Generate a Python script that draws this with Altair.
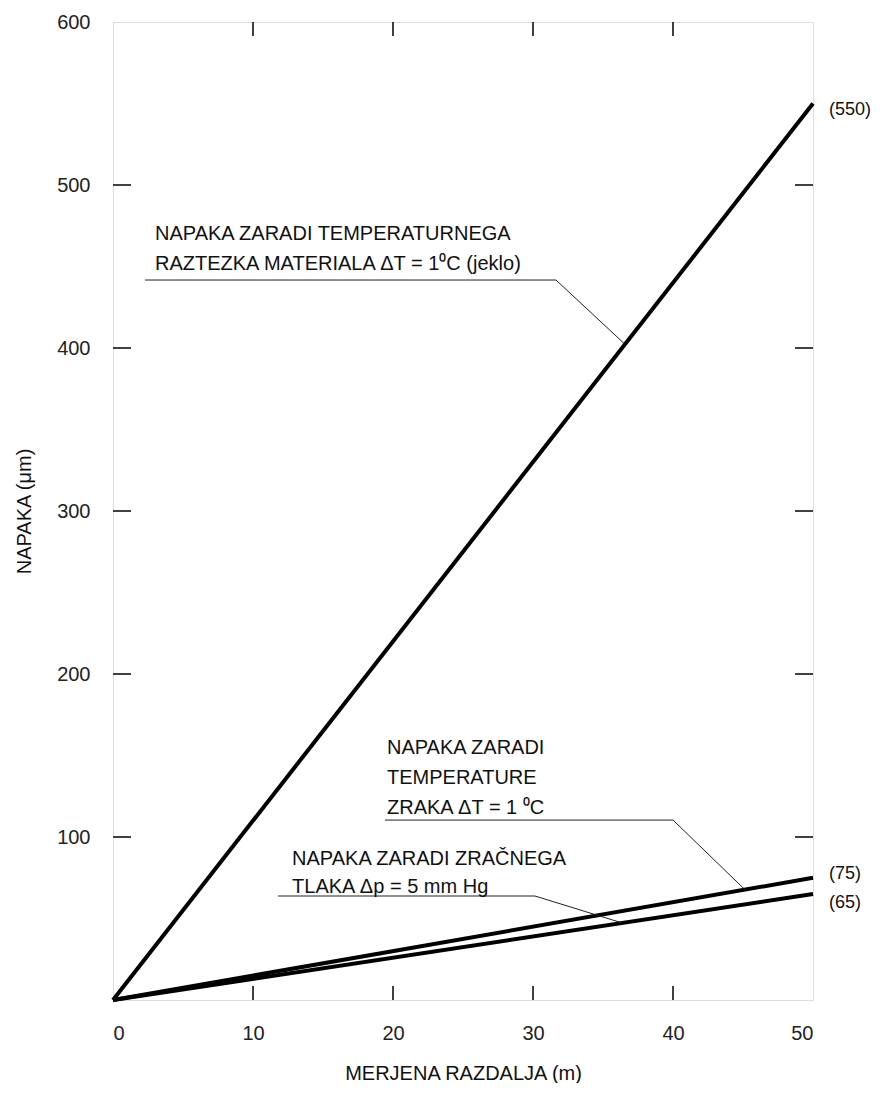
import altair as alt
import pandas as pd

FONT = "Liberation Sans, Arial, sans-serif"

# series: (0,0) -> (50, end value)
series = ["jeklo", "zrak_T", "zrak_p"]
x_end = 50
end_values = [550, 75, 65]
end_labels = ["(550)", "(75)", "(65)"]
end_label_y = [546, 77, 59.5]

y_tick_values = [100, 200, 300, 400, 500]
x_tick_values = [10, 20, 30, 40]
y_label_values = [100, 200, 300, 400, 500, 600]
x_label_values = [0, 10, 20, 30, 40, 50]

# annotation text lines (data coords: x, baseline y)
ann_text = [
    "NAPAKA ZARADI TEMPERATURNEGA",
    "RAZTEZKA MATERIALA \u0394T =  1\u2070C (jeklo)",
    "NAPAKA ZARADI",
    "TEMPERATURE",
    "ZRAKA  \u0394T =  1 \u2070C",
    "NAPAKA ZARADI ZRA\u010cNEGA",
    "TLAKA \u0394p =  5 mm Hg",
]
ann_x = [3.0, 3.0, 19.57, 19.57, 19.57, 12.79, 12.79]
ann_y = [466.3, 447.9, 150.9, 132.5, 114.1, 82.8, 65.6]

# leader lines: group, x, y
leader_group = [1, 1, 1, 2, 2, 2, 3, 3, 3]
leader_order = [0, 1, 2, 0, 1, 2, 0, 1, 2]
leader_x = [2.29, 31.64, 36.57, 19.43, 40.0, 45.14, 11.79, 30.14, 36.36]
leader_y = [441.7, 441.7, 402.3, 110.4, 110.4, 67.7, 63.8, 63.8, 47.3]

rows = []
for s, v in zip(series, end_values):
    rows.append({"s": s, "x": 0, "y": 0})
    rows.append({"s": s, "x": x_end, "y": v})
lines_df = pd.DataFrame(rows)

xs = alt.Scale(domain=[0, 50], nice=False, zero=False)
ys = alt.Scale(domain=[0, 600], nice=False, zero=False)

x_axis = alt.Axis(
    values=x_label_values, ticks=False, domain=False, grid=False,
    labelFont=FONT, labelFontSize=20, labelColor="#222", labelPadding=23,
    title="MERJENA RAZDALJA (m)", titleFont=FONT, titleFontSize=20,
    titleFontWeight="normal", titleColor="#111", titlePadding=20)
y_axis = alt.Axis(
    values=y_label_values, ticks=False, domain=False, grid=False,
    labelFont=FONT, labelFontSize=20, labelColor="#222", labelPadding=23,
    title="NAPAKA (\u03bcm)", titleFont=FONT, titleFontSize=20,
    titleFontWeight="normal", titleColor="#111", titlePadding=22)


def X(f):
    return alt.X(f, scale=xs, axis=x_axis, title="MERJENA RAZDALJA (m)")


def Y(f):
    return alt.Y(f, scale=ys, axis=y_axis, title="NAPAKA (\u03bcm)")


lines = alt.Chart(lines_df).mark_line(color="black", strokeWidth=4).encode(
    x=X("x:Q"), y=Y("y:Q"), detail="s:N")

ytick_df = pd.DataFrame({"x": [0] * len(y_tick_values), "y": y_tick_values})
xtick_df = pd.DataFrame({"x": x_tick_values, "y": [0] * len(x_tick_values)})

left_ticks = alt.Chart(ytick_df).mark_rule(color="black", strokeWidth=1.5).encode(
    y=Y("y:Q"), x=alt.value(0), x2=alt.value(18))
right_ticks = alt.Chart(ytick_df).mark_rule(color="black", strokeWidth=1.5).encode(
    y=Y("y:Q"), x=alt.value(682), x2=alt.value(700))
top_ticks = alt.Chart(xtick_df).mark_rule(color="black", strokeWidth=1.5).encode(
    x=X("x:Q"), y=alt.value(0), y2=alt.value(14))
bottom_ticks = alt.Chart(xtick_df).mark_rule(color="black", strokeWidth=1.5).encode(
    x=X("x:Q"), y=alt.value(964), y2=alt.value(978))

end_df = pd.DataFrame({"x": [x_end] * 3, "y": end_label_y, "t": end_labels})
end_text = alt.Chart(end_df).mark_text(
    align="left", baseline="middle", dx=16, font=FONT, fontSize=18, color="#111"
).encode(x=X("x:Q"), y=Y("y:Q"), text="t:N")

ann_df = pd.DataFrame({"x": ann_x, "y": ann_y, "t": ann_text})
ann = alt.Chart(ann_df).mark_text(
    align="left", baseline="alphabetic", font=FONT, fontSize=20, color="#111"
).encode(x=X("x:Q"), y=Y("y:Q"), text="t:N")

lead_df = pd.DataFrame({"g": leader_group, "o": leader_order, "x": leader_x, "y": leader_y})
leaders = alt.Chart(lead_df).mark_line(color="#222", strokeWidth=1).encode(
    x=X("x:Q"), y=Y("y:Q"), detail="g:N", order="o:Q")

chart = alt.layer(
    lines, left_ticks, right_ticks, top_ticks, bottom_ticks, leaders, ann, end_text
).properties(
    width=700, height=978,
    padding={"left": 6, "top": 4, "right": 0, "bottom": 0},
).configure_view(stroke="#555", strokeWidth=1.5).configure(background="white")

chart.save("out.html", embed_options={"renderer": "svg", "actions": False})
